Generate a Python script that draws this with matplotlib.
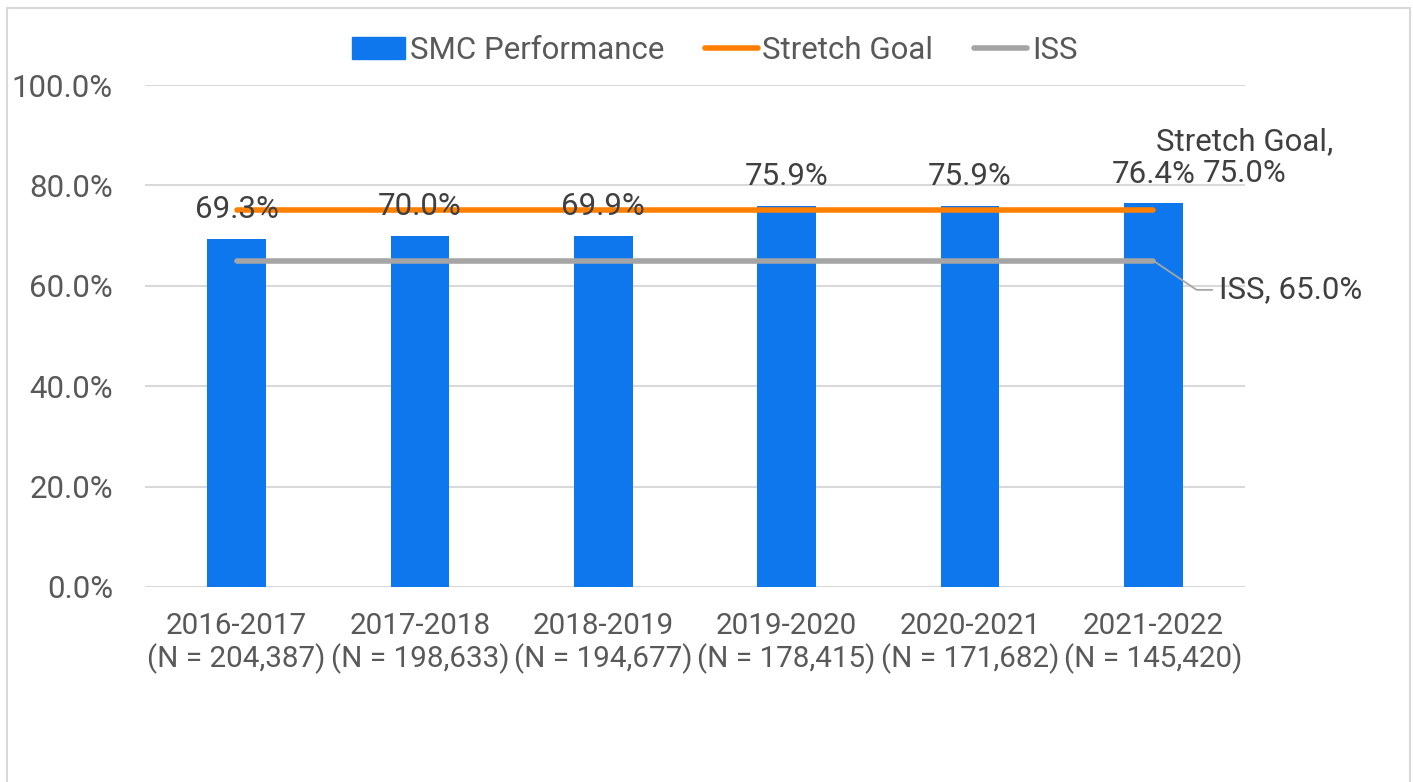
import matplotlib
matplotlib.use("Agg")
import matplotlib.pyplot as plt
from matplotlib.patches import Rectangle, Patch
from matplotlib.lines import Line2D
from matplotlib.ticker import PercentFormatter

plt.rcParams['font.family'] = ['Roboto', 'DejaVu Sans']

years = ["2016-2017", "2017-2018", "2018-2019", "2019-2020", "2020-2021", "2021-2022"]
n_counts = ["204,387", "198,633", "194,677", "178,415", "171,682", "145,420"]
smc = [69.3, 70.0, 69.9, 75.9, 75.9, 76.4]
stretch = [75.0] * 6
iss = [65.0] * 6

BLUE = "#0F77EE"
ORANGE = "#FF7F00"
GRAY = "#A5A5A5"
TXT = "#595959"
LBL = "#404040"
GRID = "#D9D9D9"
FS = 22.5

fig = plt.figure(figsize=(14.13, 7.82), dpi=100)
ax = fig.add_axes([0.1026, 0.2494, 0.7785, 0.6419])

x = list(range(len(years)))
ax.bar(x, smc, width=0.32, color=BLUE, zorder=2)
ax.plot(x, stretch, color=ORANGE, lw=4, solid_capstyle="round", zorder=3)
ax.plot(x, iss, color=GRAY, lw=4, solid_capstyle="round", zorder=3)

for xi, v in zip(x, smc):
    ax.annotate(f"{v:.1f}%", (xi, v), xytext=(0, 21), textcoords="offset points",
                ha="center", va="center", fontsize=FS, color=LBL, zorder=4)

ax.annotate(f"Stretch Goal,\n{stretch[-1]:.1f}%", (x[-1], stretch[-1]),
            xytext=(66, 38), textcoords="offset points", ha="center", va="center",
            fontsize=FS, color=LBL, linespacing=1.15)
ax.annotate(f"ISS, {iss[-1]:.1f}%", (x[-1], iss[-1]), xytext=(47.5, -21),
            textcoords="offset points", ha="left", va="center", fontsize=FS,
            color=LBL,
            arrowprops=dict(arrowstyle="-", color=GRAY, lw=1.3, shrinkA=3, shrinkB=0,
                            connectionstyle="angle,angleA=0,angleB=-34"))

ax.set_ylim(0, 100)
ax.set_xlim(-0.5, len(years) - 0.5)
ax.set_yticks(range(0, 101, 20))
ax.yaxis.set_major_formatter(PercentFormatter(decimals=1))
ax.set_xticks(x)
ax.set_xticklabels([f"{y}\n(N = {n})" for y, n in zip(years, n_counts)], linespacing=1.12)
ax.tick_params(axis="both", length=0, labelsize=FS, colors=TXT)
ax.tick_params(axis="x", pad=18, labelsize=21.3)
ax.tick_params(axis="y", pad=23)
ax.grid(axis="y", color=GRID, lw=1.5, zorder=0)
ax.set_axisbelow(True)
for s in ax.spines.values():
    s.set_visible(False)

handles = [Patch(color=BLUE), Line2D([], [], color=ORANGE, lw=4, solid_capstyle="round"),
           Line2D([], [], color=GRAY, lw=4, solid_capstyle="round")]
fig.legend(handles, ["SMC Performance", "Stretch Goal", "ISS"], loc="center",
           bbox_to_anchor=(0.5057, 0.936), ncol=3, frameon=False, fontsize=FS,
           handlelength=1.7, handletextpad=0.15, columnspacing=1.3, labelcolor=TXT)

fig.add_artist(Rectangle((7 / 1413, -0.1), 1403 / 1413, 1.1 - 8 / 782, transform=fig.transFigure,
                         fill=False, edgecolor=GRID, lw=1.5))

fig.savefig("out.png", dpi=100)
